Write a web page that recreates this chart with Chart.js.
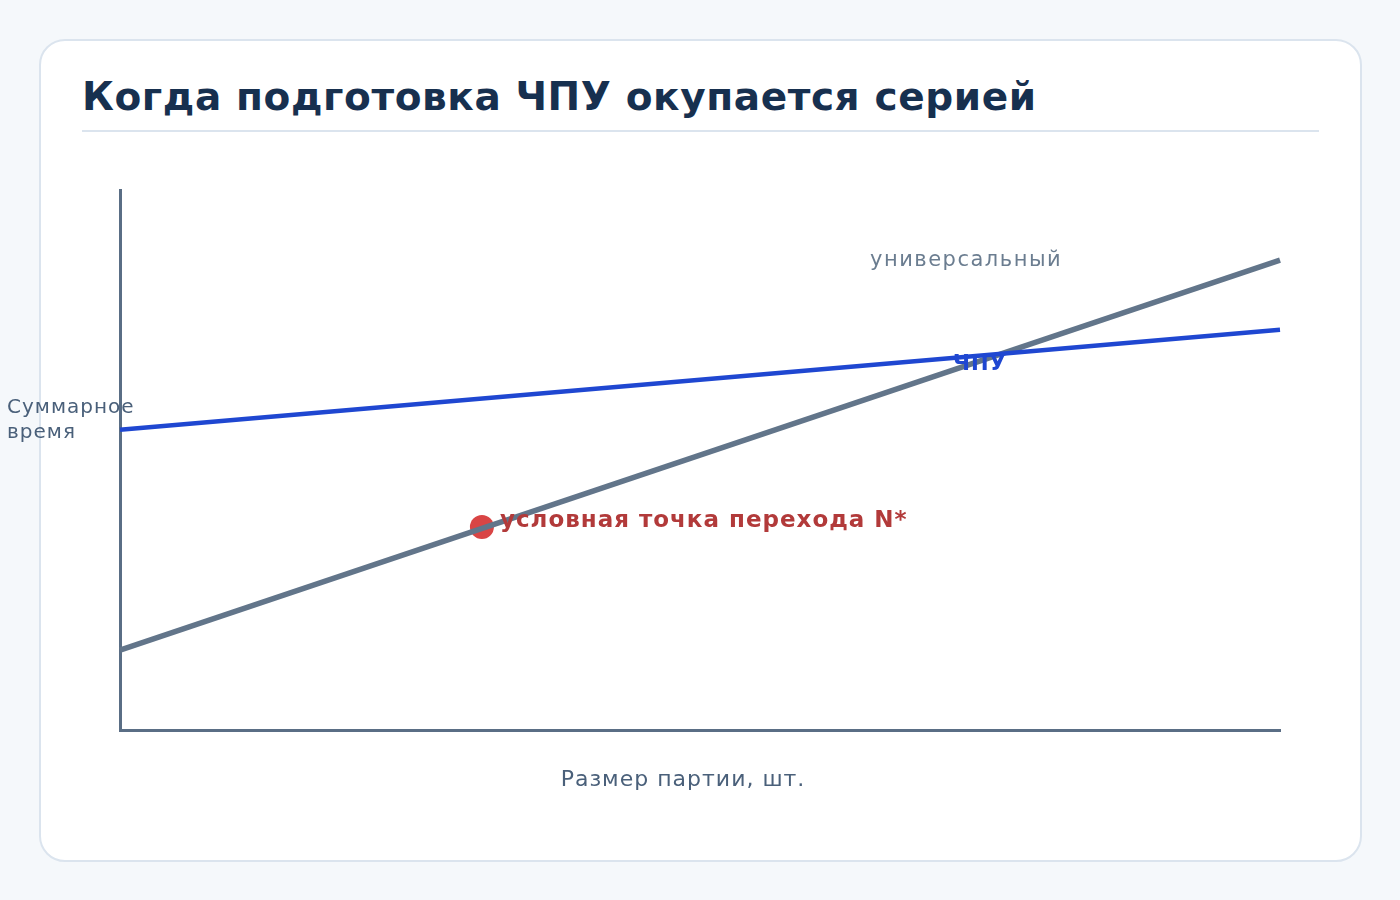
<!DOCTYPE html>
<html><head><meta charset="utf-8">
<script src="https://cdn.jsdelivr.net/npm/chart.js@4"></script>
<style>
body{margin:0;background:#f5f8fb;width:1400px;height:900px;overflow:hidden;font-family:"DejaVu Sans",sans-serif}
.card{position:absolute;left:39px;top:39px;width:1323px;height:823px;background:#fff;border:2px solid #dbe4ee;border-radius:26px;box-sizing:border-box}
h1{position:absolute;left:82px;top:74px;margin:0;font-size:39px;font-weight:bold;color:#17304f;letter-spacing:0.6px}
.rule{position:absolute;left:82px;top:130px;width:1237px;height:2px;background:#dbe4ee}
canvas{position:absolute;left:0;top:0}
</style></head><body>
<div class="card"></div>
<h1>Когда подготовка ЧПУ окупается серией</h1>
<div class="rule"></div>
<canvas id="c" width="1400" height="900"></canvas>
<script>
const batchX = [0, 100];
const cncTime = [55.6, 74.1];
const universalTime = [14.8, 87.0];
const crossover = {x: 31.2, y: 37.6};
const labels = {universal:"универсальный", cnc:"ЧПУ", point:"условная точка перехода N*", yTitle:["Суммарное","время"], xTitle:"Размер партии, шт."};

const ann = {id:'ann', afterDatasetsDraw(ch){
  const c=ch.ctx, x=ch.scales.x, y=ch.scales.y;
  c.save(); c.textBaseline='middle';
  c.letterSpacing='1.5px';
  c.font='21px "DejaVu Sans"'; c.fillStyle='#6b7d90'; c.textAlign='left';
  c.fillText(labels.universal, 870, 261);
  c.letterSpacing='1px';
  c.font='bold 21px "DejaVu Sans"'; c.fillStyle='#1f47d1';
  c.fillText(labels.cnc, 953, 365);
  c.font='bold 23px "DejaVu Sans"'; c.fillStyle='#b23a3a';
  c.fillText(labels.point, x.getPixelForValue(crossover.x)+18, y.getPixelForValue(crossover.y)-6);
  c.font='20px "DejaVu Sans"'; c.fillStyle='#4a607a';
  c.fillText(labels.yTitle[0], 7, 408); c.fillText(labels.yTitle[1], 7, 433);
  c.textAlign='center'; c.font='22px "DejaVu Sans"';
  c.fillText(labels.xTitle, 683, 780);
  c.restore();
}};

new Chart(document.getElementById('c'), {
  type:'scatter',
  data:{datasets:[
    {data:batchX.map((v,i)=>({x:v,y:cncTime[i]})), showLine:true, borderColor:'#1f47d1', borderWidth:4.5, pointRadius:0},
    {data:batchX.map((v,i)=>({x:v,y:universalTime[i]})), showLine:true, borderColor:'#62758a', borderWidth:5.5, pointRadius:0},
    {data:[crossover], pointRadius:12, backgroundColor:'#d94545', borderWidth:0}
  ]},
  options:{responsive:false, animation:false, clip:false,
    layout:{padding:{left:112,right:120,top:190,bottom:162}},
    plugins:{legend:{display:false},tooltip:{enabled:false}},
    scales:{
      x:{type:'linear',min:0,max:100,grid:{display:false},ticks:{display:false},border:{display:true,color:'#5a6e85',width:3}},
      y:{min:0,max:100,grid:{display:false},ticks:{display:false},border:{display:true,color:'#5a6e85',width:3}}
    }},
  plugins:[ann]
});
</script></body></html>
